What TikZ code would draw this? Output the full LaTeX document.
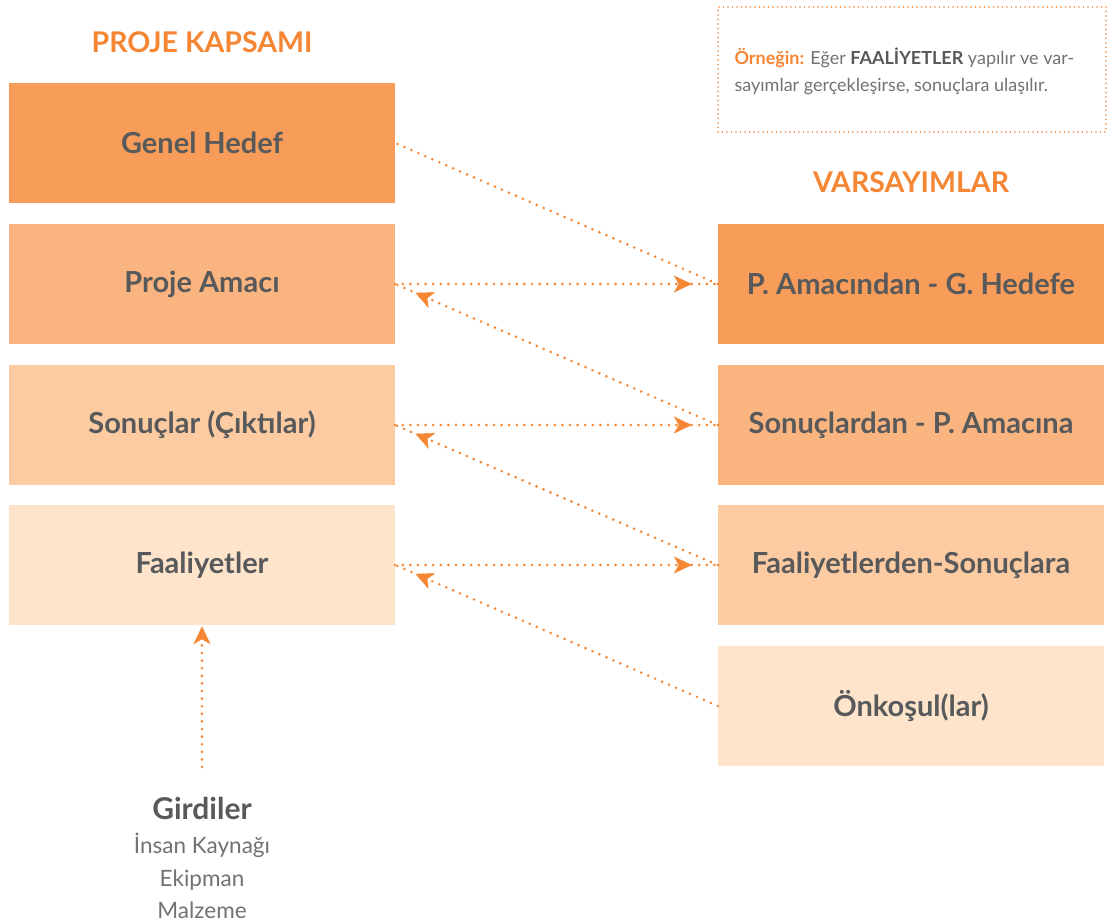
\documentclass[tikz,border=0pt]{standalone}
\usepackage{fontspec}
\setmainfont{Lato}
\usetikzlibrary{arrows.meta,decorations.markings}
\definecolor{tone1}{HTML}{F89D59}
\definecolor{tone2}{HTML}{FAB47F}
\definecolor{tone3}{HTML}{FCCBA1}
\definecolor{tone4}{HTML}{FDE4CB}
\definecolor{accent}{HTML}{F58634}
\definecolor{ink}{HTML}{58595B}
\tikzset{
  block/.style={minimum width=386pt, minimum height=120pt, inner sep=0pt,
    text=ink, font=\fontsize{29}{32}\selectfont\bfseries},
  heading/.style={text=accent, font=\fontsize{28.5}{32}\selectfont\bfseries},
  dots/.style={accent, line width=2.9pt, line cap=round, dash pattern=on 0pt off 7.6pt},
  tip/.style={postaction={decorate, decoration={markings,
    mark=at position #1 with {\arrow[accent, line width=0.5pt]{Stealth[length=18pt, width=17pt, inset=5pt]}}}}},
}
\begin{document}
\begin{tikzpicture}[x=1pt, y=-1pt]
\useasboundingbox (0,0) rectangle (1109,924);
\fill[white] (0,0) rectangle (1109,924);

% column headings
\node[heading] (scope) at (202,42) {PROJE KAPSAMI};
\node[heading] (assume) at (911,182) {VARSAYIMLAR};

% project scope column
\node[block, fill=tone1] (goal) at (202,143) {Genel Hedef};
\node[block, fill=tone2] (purpose) at (202,284) {Proje Amacı};
\node[block, fill=tone3] (outputs) at (202,425) {Sonuçlar (Çıktılar)};
\node[block, fill=tone4] (acts) at (202,565) {Faaliyetler};

% assumptions column
\node[block, fill=tone1] (a1) at (911,284) {P. Amacından - G. Hedefe};
\node[block, fill=tone2] (a2) at (911,425) {Sonuçlardan - P. Amacına};
\node[block, fill=tone3] (a3) at (911,565) {Faaliyetlerden-Sonuçlara};
\node[block, fill=tone4] (a4) at (911,706) {Önkoşul(lar)};

% example note
\node[draw=accent, line width=1.8pt, dash pattern=on 0pt off 4.5pt, line cap=round,
  minimum width=388pt, minimum height=125pt, inner sep=0pt] (note) at (912,69.5) {};
\node[anchor=west, align=left, text=ink!85, font=\fontsize{18}{27}\selectfont]
  (notetext) at (731,71)
  {{\color{accent}\bfseries Örneğin:} Eğer {\bfseries\color{ink}FAALİYETLER} yapılır ve var-\\
   sayımlar gerçekleşirse, sonuçlara ulaşılır.};

% inputs
\node[text=ink, font=\fontsize{30}{32}\selectfont\bfseries] (inputs) at (202,808) {Girdiler};
\node[text=ink!85, font=\fontsize{22.5}{32.5}\selectfont, align=center, anchor=north]
  (inputlist) at (202,830) {İnsan Kaynağı\\Ekipman\\Malzeme};
\coordinate (inbase) at (202,767);

% connectors
\draw[dots] (a1.west) -- (goal.east);
\draw[dots, tip=-26pt] (purpose.east) -- (a1.west);
\draw[dots, tip=-26pt] (outputs.east) -- (a2.west);
\draw[dots, tip=-26pt] (acts.east) -- (a3.west);
\draw[dots, tip=-22pt] (a2.west) -- (purpose.east);
\draw[dots, tip=-22pt] (a3.west) -- (outputs.east);
\draw[dots, tip=-22pt] (a4.west) -- (acts.east);
\draw[dots, tip=-1pt] (inbase) -- (acts.south);
\end{tikzpicture}
\end{document}
